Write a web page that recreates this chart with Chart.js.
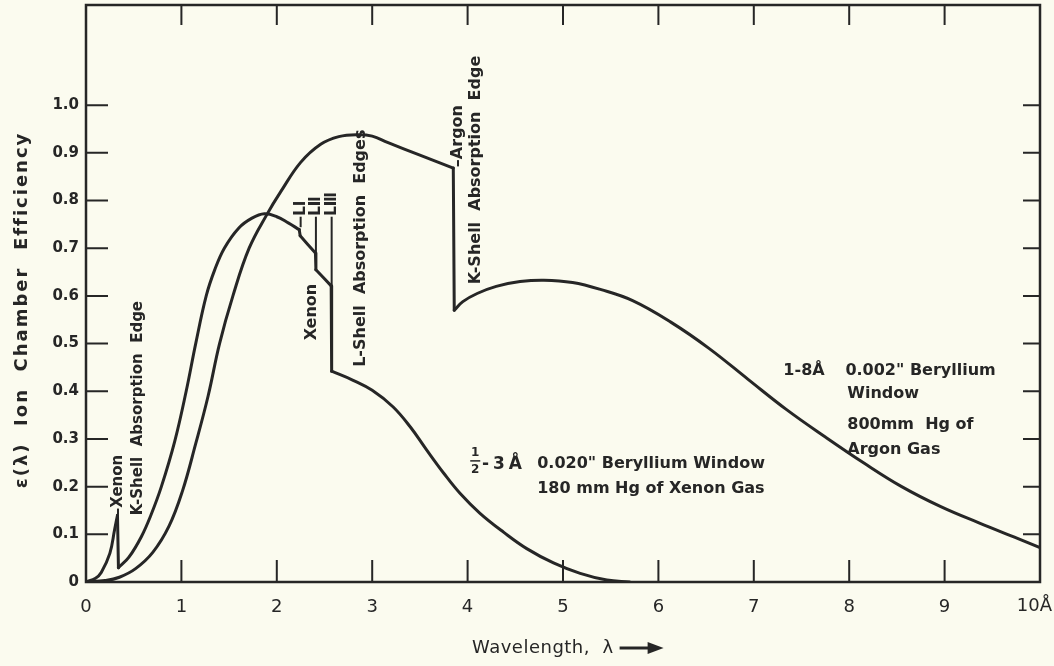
<!DOCTYPE html>
<html>
<head>
<meta charset="utf-8">
<title>Ion Chamber Efficiency</title>
<script src="https://cdn.jsdelivr.net/npm/chart.js@4.4.0/dist/chart.umd.min.js"></script>
<style>
  html, body { margin: 0; padding: 0; background: #fbfbef; }
  #wrap { width: 1054px; height: 666px; }
</style>
</head>
<body>
<div id="wrap"><canvas id="chart" width="1054" height="666"></canvas></div>
<script>
// 1/2-3 A detector: 0.020" Be window, 180 mm Hg xenon
const xenonWavelength = [0, 0.1, 0.16, 0.25, 0.3, 0.33, 0.34, 0.45, 0.58, 0.68, 0.79, 0.93, 1.05, 1.15, 1.26,
  1.35, 1.45, 1.6, 1.74, 1.87, 2.0, 2.12, 2.235, 2.245, 2.405, 2.41, 2.57, 2.575,
  2.8, 3.0, 3.22, 3.4, 3.57, 3.75, 3.92, 4.13, 4.38, 4.62, 4.9, 5.18, 5.46, 5.7];
const xenonEfficiency = [0, 0.008, 0.02, 0.06, 0.11, 0.14, 0.03, 0.052, 0.095, 0.14, 0.2, 0.295, 0.4, 0.5, 0.6,
  0.655, 0.7, 0.742, 0.763, 0.772, 0.766, 0.753, 0.739, 0.726, 0.69, 0.655, 0.621, 0.442,
  0.423, 0.402, 0.367, 0.325, 0.277, 0.228, 0.186, 0.144, 0.104, 0.07, 0.04, 0.018, 0.004, 0];

// 1-8 A detector: 0.002" Be window, 800 mm Hg argon
const argonWavelength = [0, 0.2, 0.35, 0.52, 0.7, 0.87, 1.01, 1.15, 1.28, 1.4, 1.54, 1.71, 1.9, 2.04,
  2.25, 2.46, 2.65, 2.85, 3.0, 3.16, 3.5, 3.85, 3.86, 3.95, 4.1, 4.3, 4.55, 4.8, 5.1, 5.4,
  5.73, 6.13, 6.53, 6.94, 7.34, 7.75, 8.15, 8.55, 8.96, 9.36, 9.77, 10];
const argonEfficiency = [0, 0.003, 0.01, 0.028, 0.062, 0.117, 0.19, 0.29, 0.39, 0.5, 0.6, 0.7, 0.772, 0.818,
  0.88, 0.918, 0.934, 0.938, 0.935, 0.922, 0.895, 0.868, 0.57, 0.588, 0.605, 0.62, 0.63, 0.633, 0.628, 0.613,
  0.59, 0.545, 0.49, 0.425, 0.362, 0.304, 0.25, 0.2, 0.158, 0.124, 0.091, 0.072];

const xTickValues = [0, 1, 2, 3, 4, 5, 6, 7, 8, 9, 10];
const xTickLabels = ['0', '1', '2', '3', '4', '5', '6', '7', '8', '9', '10Å'];
const yTickValues = [0, 0.1, 0.2, 0.3, 0.4, 0.5, 0.6, 0.7, 0.8, 0.9, 1.0];
const yTickLabels = ['0', '0.1', '0.2', '0.3', '0.4', '0.5', '0.6', '0.7', '0.8', '0.9', '1.0'];

const INK = '#262626';
const PAPER = '#fbfbef';
const FONT = '"DejaVu Sans", "Noto Sans", sans-serif';

// Split a curve at its absorption edges (near-vertical steps): smooth parts
// go into one dataset (gaps between them), the steps into a straight one.
function splitAtEdges(xs, ys) {
    const smooth = [], edges = [];
    xs.forEach((x, i) => {
        smooth.push({ x: x, y: ys[i] });
        if (i < xs.length - 1 && xs[i + 1] - x < 0.02) {
            smooth.push({ x: (x + xs[i + 1]) / 2, y: null });
            edges.push({ x: x, y: ys[i] }, { x: xs[i + 1], y: ys[i + 1] }, { x: xs[i + 1], y: null });
        }
    });
    return { smooth, edges };
}

const xenon = splitAtEdges(xenonWavelength, xenonEfficiency);
const argon = splitAtEdges(argonWavelength, argonEfficiency);

// Draw rotated (bottom-to-top) text
function vtext(ctx, text, px, py, align) {
    ctx.save();
    ctx.translate(px, py);
    ctx.rotate(-Math.PI / 2);
    ctx.textAlign = align;
    ctx.textBaseline = 'middle';
    ctx.fillText(text, 0, 0);
    ctx.restore();
}

const framePlugin = {
    id: 'frame',
    beforeDraw(chart) {
        const ctx = chart.ctx;
        ctx.save();
        ctx.fillStyle = PAPER;
        ctx.fillRect(0, 0, chart.width, chart.height);
        ctx.restore();
    },
    afterDatasetsDraw(chart) {
        const { ctx, chartArea: a, scales: { x, y } } = chart;
        ctx.save();
        ctx.strokeStyle = INK;
        ctx.fillStyle = INK;

        // frame
        ctx.lineWidth = 2.5;
        ctx.strokeRect(a.left, a.top, a.right - a.left, a.bottom - a.top);

        // inside tick marks
        ctx.lineWidth = 2;
        ctx.beginPath();
        xTickValues.slice(1, -1).forEach(v => {
            const px = x.getPixelForValue(v);
            ctx.moveTo(px, a.bottom); ctx.lineTo(px, a.bottom - 22);
            ctx.moveTo(px, a.top); ctx.lineTo(px, a.top + 20);
        });
        yTickValues.slice(1).forEach(v => {
            const py = y.getPixelForValue(v);
            ctx.moveTo(a.left, py); ctx.lineTo(a.left + 22, py);
            ctx.moveTo(a.right, py); ctx.lineTo(a.right - 17, py);
        });
        ctx.stroke();

        // last x label sits left of its tick so it stays on the page
        ctx.font = '18px ' + FONT;
        ctx.textAlign = 'right';
        ctx.textBaseline = 'top';
        ctx.fillText(xTickLabels[xTickLabels.length - 1], x.getPixelForValue(10) + 12, a.bottom + 15);

        const P = (vx, vy) => [x.getPixelForValue(vx), y.getPixelForValue(vy)];

        // vertical annotations
        ctx.font = 'bold 15px ' + FONT;
        let [px, py] = P(0.335, 0.14);
        vtext(ctx, '–Xenon', px, py, 'left');
        [px, py] = P(0.55, 0.14);
        vtext(ctx, 'K-Shell  Absorption  Edge', px, py, 'left');

        ctx.font = 'bold 16px ' + FONT;
        [px, py] = P(2.37, 0.566);
        vtext(ctx, 'Xenon', px, py, 'center');
        [px, py] = P(2.885, 0.70);
        vtext(ctx, 'L-Shell  Absorption  Edges', px, py, 'center');
        [px, py] = P(3.9, 0.87);
        vtext(ctx, '–Argon', px, py, 'left');
        [px, py] = P(4.09, 0.864);
        vtext(ctx, 'K-Shell  Absorption  Edge', px, py, 'center');

        // L-edge leader lines and labels
        const lEdges = [[2.25, 0.744, 'LⅠ'], [2.41, 0.688, 'LⅡ'], [2.575, 0.618, 'LⅢ']];
        ctx.lineWidth = 2;
        ctx.font = 'bold 15px ' + FONT;
        lEdges.forEach(([ex, ey, label]) => {
            const [lx, ly0] = P(ex, ey);
            const ly1 = y.getPixelForValue(0.766);
            ctx.beginPath();
            ctx.moveTo(lx, ly0); ctx.lineTo(lx, ly1);
            ctx.stroke();
            vtext(ctx, label, lx, ly1 - 1, 'left');
        });

        // horizontal annotations
        ctx.font = 'bold 16px ' + FONT;
        ctx.textAlign = 'left';
        ctx.textBaseline = 'middle';
        [px, py] = P(7.31, 0.442);
        ctx.fillText('1-8Å', px, py);
        [px, py] = P(7.96, 0.442);
        ctx.fillText('0.002" Beryllium', px, py);
        [px, py] = P(7.98, 0.394);
        ctx.fillText('Window', px, py);
        [px, py] = P(7.98, 0.329);
        ctx.fillText('800mm  Hg of', px, py);
        [px, py] = P(7.98, 0.277);
        ctx.fillText('Argon Gas', px, py);

        // 1/2 fraction
        [px, py] = P(4.08, 0.254);
        ctx.font = 'bold 12px ' + FONT;
        ctx.textAlign = 'center';
        ctx.fillText('1', px, py - 8);
        ctx.fillText('2', px, py + 9);
        ctx.lineWidth = 1.5;
        ctx.beginPath();
        ctx.moveTo(px - 5, py); ctx.lineTo(px + 5, py);
        ctx.stroke();

        ctx.font = 'bold 17px ' + FONT;
        ctx.textAlign = 'left';
        ctx.letterSpacing = '4px';
        [px, py] = P(4.15, 0.247);
        ctx.fillText('-3Å', px, py);
        ctx.letterSpacing = '0px';
        ctx.font = 'bold 16px ' + FONT;
        [px, py] = P(4.73, 0.247);
        ctx.fillText('0.020" Beryllium Window', px, py);
        [px, py] = P(4.73, 0.195);
        ctx.fillText('180 mm Hg of Xenon Gas', px, py);

        // axis titles
        ctx.font = 'bold 18px ' + FONT;
        ctx.letterSpacing = '2px';
        vtext(ctx, 'ε(λ)  Ion  Chamber  Efficiency', 22, 310, 'center');

        ctx.font = '18px ' + FONT;
        ctx.letterSpacing = '0.5px';
        ctx.textAlign = 'left';
        ctx.textBaseline = 'middle';
        const title = 'Wavelength,  λ';
        const tw = ctx.measureText(title).width;
        const tx = 472, ty = 648;
        ctx.fillText(title, tx, ty);
        ctx.letterSpacing = '0px';
        const ax = tx + tw + 6;
        ctx.lineWidth = 3;
        ctx.beginPath();
        ctx.moveTo(ax, ty); ctx.lineTo(ax + 30, ty);
        ctx.stroke();
        ctx.beginPath();
        ctx.moveTo(ax + 44, ty); ctx.lineTo(ax + 28, ty - 6); ctx.lineTo(ax + 28, ty + 6);
        ctx.closePath();
        ctx.fill();

        ctx.restore();
    }
};

const lineStyle = {
    borderColor: INK,
    borderWidth: 3,
    pointRadius: 0,
    fill: false,
    spanGaps: false,
    borderJoinStyle: 'round',
    borderCapStyle: 'round'
};

new Chart(document.getElementById('chart').getContext('2d'), {
    type: 'line',
    data: {
        datasets: [
            Object.assign({ label: '1/2-3 Å Xenon', data: xenon.smooth, tension: 0.4 }, lineStyle),
            Object.assign({ label: 'Xenon edges', data: xenon.edges, tension: 0 }, lineStyle),
            Object.assign({ label: '1-8 Å Argon', data: argon.smooth, tension: 0.4 }, lineStyle),
            Object.assign({ label: 'Argon edges', data: argon.edges, tension: 0 }, lineStyle)
        ]
    },
    options: {
        responsive: false,
        animation: false,
        layout: { padding: { top: 5, right: 14, left: 0, bottom: 0 } },
        plugins: { legend: { display: false }, tooltip: { enabled: false } },
        scales: {
            x: {
                type: 'linear',
                min: 0,
                max: 10,
                afterBuildTicks: s => { s.ticks = xTickValues.map(v => ({ value: v })); },
                afterFit: s => { s.height = 84; s.paddingLeft = 0; s.paddingRight = 0; },
                grid: { display: false, drawTicks: false },
                border: { display: false },
                ticks: {
                    padding: 15,
                    color: INK,
                    maxRotation: 0,
                    font: { family: FONT, size: 18 },
                    // the last label is drawn by the frame plugin
                    callback: v => v === 10 ? '' : xTickLabels[xTickValues.indexOf(v)]
                }
            },
            y: {
                type: 'linear',
                min: 0,
                max: 1.21,
                afterBuildTicks: s => { s.ticks = yTickValues.map(v => ({ value: v })); },
                afterFit: s => { s.width = 86; s.paddingTop = 0; s.paddingBottom = 0; },
                grid: { display: false, drawTicks: false },
                border: { display: false },
                ticks: {
                    padding: 7,
                    color: INK,
                    font: { family: FONT, size: 15, weight: 'bold' },
                    callback: v => yTickLabels[yTickValues.findIndex(t => Math.abs(t - v) < 1e-6)]
                }
            }
        }
    },
    plugins: [framePlugin]
});
</script>
</body>
</html>
